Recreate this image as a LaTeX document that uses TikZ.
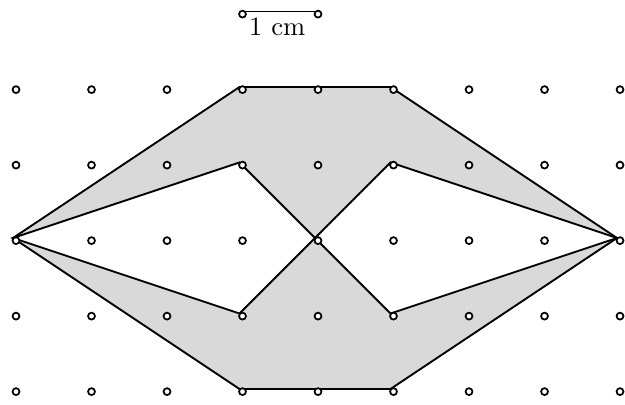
\documentclass[tikz,border=0pt]{standalone}
\begin{document}
\begin{tikzpicture}[
  edge/.style={line width=0.7pt},
  dot/.style={draw, line width=0.65pt, fill=white, circle, inner sep=0pt, minimum size=2.6pt},
  area/.style={fill=gray!30}
]
\useasboundingbox (-0.172,-0.212) rectangle (8.106,5.152);
% vertices
\coordinate (L) at (0,2);
\coordinate (R) at (8,2);
\coordinate (C) at (4,2);
\coordinate (A) at (3,4);
\coordinate (B) at (5,4);
\coordinate (D) at (3,3);
\coordinate (E) at (5,3);
\coordinate (F) at (3,1);
\coordinate (G) at (5,1);
\coordinate (H) at (3,0);
\coordinate (K) at (5,0);
% shaded area
\fill[area, even odd rule] (L) -- (A) -- (B) -- (R) -- (K) -- (H) -- cycle
  (L) -- (D) -- (C) -- (E) -- (R) -- (G) -- (C) -- (F) -- cycle;
% outlines
\draw[edge] (L) -- (A) -- (B) -- (R) -- (K) -- (H) -- cycle;
\draw[edge] (L) -- (D) -- (C) -- (E) -- (R) -- (G) -- (C) -- (F) -- cycle;
% scale bar
\coordinate (S1) at (3,5);
\coordinate (S2) at (4,5);
\draw[edge] (S1) -- (S2) node[midway, below=1pt, inner sep=1pt] (lbl) {1 cm};
\node[dot] (s1) at ([shift={(0.04,-0.035)}]S1) {};
\node[dot] (s2) at ([shift={(0.04,-0.035)}]S2) {};
% grid dots
\foreach \i in {0,...,8}{
  \foreach \j in {0,...,4}{
    \node[dot] (g\i\j) at (\i+0.04,\j-0.035) {};
  }
}
\end{tikzpicture}
\end{document}
